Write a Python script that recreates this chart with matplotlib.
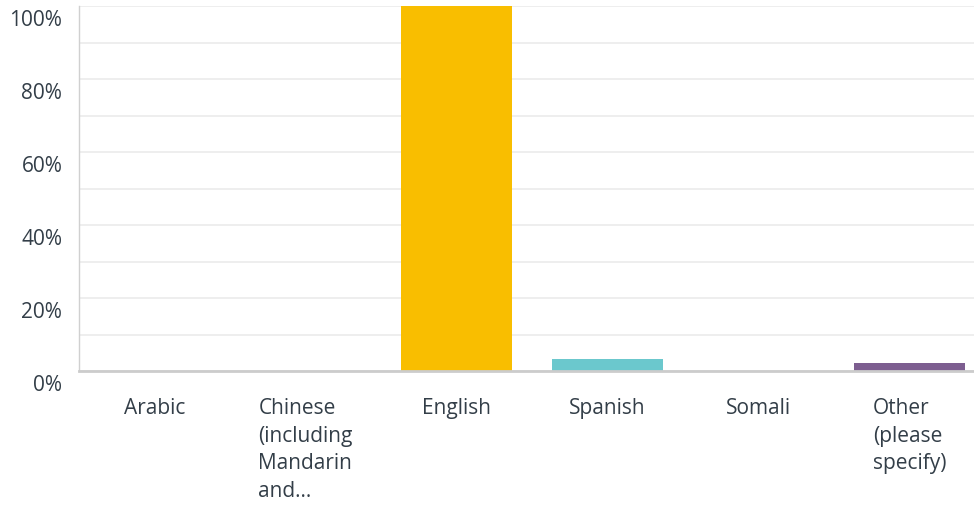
import matplotlib
matplotlib.use("Agg")
import matplotlib.pyplot as plt
from matplotlib.transforms import ScaledTranslation

# answer categories and share of respondents (%)
categories = ["Arabic", "Chinese\n(including\nMandarin\nand...", "English",
              "Spanish", "Somali", "Other\n(please\nspecify)"]
values = [0, 0, 100, 3.3, 0, 2.2]
colors = ["#2DCCD3", "#F05B24", "#F9BE00", "#6BC8CD", "#507CB6", "#7D5E90"]
yticks = [0, 20, 40, 60, 80, 100]
ytick_labels = ["0%", "20%", "40%", "60%", "80%", "100%"]

plt.rcParams["font.family"] = ["Open Sans", "DejaVu Sans"]
text_color = "#333e48"

fig = plt.figure(figsize=(9.74, 5.10), dpi=100)
# axes run a bit past the right edge, like the original crop
ax = fig.add_axes([79 / 974, 138 / 510, 906 / 974, 365 / 510])

x = range(len(categories))
ax.bar(x, values, width=0.73, color=colors, zorder=3)

ax.set_xlim(-0.5, len(categories) - 0.5)
ax.set_ylim(0, 100)
ax.set_yticks(yticks)
ax.set_yticklabels(ytick_labels)
ax.set_yticks(range(10, 100, 20), minor=True)
ax.grid(axis="y", which="both", color="#ebebeb", linewidth=1.2, zorder=0)
ax.tick_params(axis="y", which="both", length=0, pad=12, labelsize=15,
               labelcolor=text_color)
# the y labels sit a little below their gridlines in the original
shift = ScaledTranslation(0, -11 / 100, fig.dpi_scale_trans)
for lab in ax.get_yticklabels():
    lab.set_transform(lab.get_transform() + shift)

ax.set_xticks(list(x))
ax.set_xticklabels(categories, multialignment="left", linespacing=1.4)
ax.tick_params(axis="x", length=0, pad=19, labelsize=15, labelcolor=text_color)

for side in ["top", "right"]:
    ax.spines[side].set_visible(False)
ax.spines["left"].set_color("#d0d0d0")
ax.spines["left"].set_linewidth(1)
ax.spines["bottom"].set_color("#cccccc")
ax.spines["bottom"].set_linewidth(2)
ax.spines["bottom"].set_zorder(4)

fig.savefig("out.png", dpi=100)
